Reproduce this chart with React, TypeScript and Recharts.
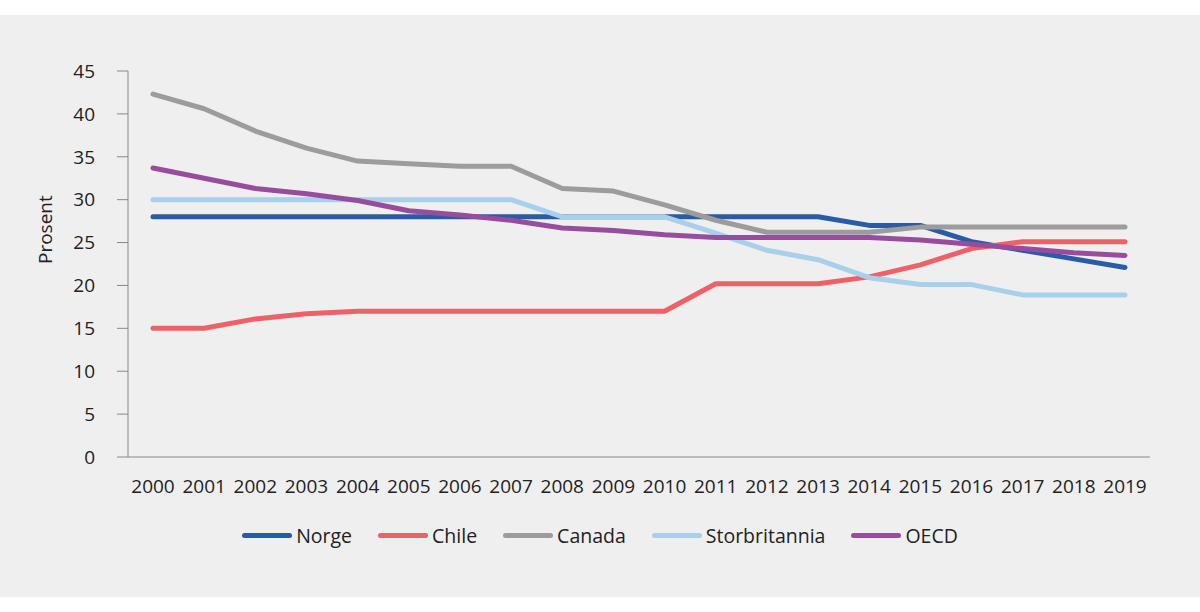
import { Legend, Line, LineChart, XAxis, YAxis } from 'recharts'

const years = [
  '2000', '2001', '2002', '2003', '2004', '2005', '2006', '2007', '2008', '2009',
  '2010', '2011', '2012', '2013', '2014', '2015', '2016', '2017', '2018', '2019',
]
const norge = [28, 28, 28, 28, 28, 28, 28, 28, 28, 28, 28, 28, 28, 28, 27, 27, 25.1, 24.1, 23.1, 22.1]
const chile = [15, 15, 16.1, 16.7, 17, 17, 17, 17, 17, 17, 17, 20.2, 20.2, 20.2, 21, 22.4, 24.3, 25.1, 25.1, 25.1]
const canada = [42.3, 40.6, 38, 36, 34.5, 34.2, 33.9, 33.9, 31.3, 31, 29.4, 27.6, 26.2, 26.2, 26.2, 26.8, 26.8, 26.8, 26.8, 26.8]
const storbritannia = [30, 30, 30, 30, 30, 30, 30, 30, 28, 28, 28, 26.1, 24.1, 23, 20.9, 20.1, 20.1, 18.9, 18.9, 18.9]
const oecd = [33.7, 32.5, 31.3, 30.7, 29.9, 28.7, 28.2, 27.6, 26.7, 26.4, 25.9, 25.6, 25.6, 25.6, 25.6, 25.3, 24.8, 24.3, 23.8, 23.5]
const yTicks = [0, 5, 10, 15, 20, 25, 30, 35, 40, 45]

const series = [
  { key: 'Norge', values: norge, color: '#2a5ba6' },
  { key: 'Chile', values: chile, color: '#ee6168' },
  { key: 'Canada', values: canada, color: '#9c9c9c' },
  { key: 'Storbritannia', values: storbritannia, color: '#a8d0ea' },
  { key: 'OECD', values: oecd, color: '#984c9e' },
]

const data = years.map((year, i) => {
  const row: Record<string, string | number> = { year }
  series.forEach((s) => {
    row[s.key] = s.values[i]
  })
  return row
})

const font = '"Open Sans", "Noto Sans", sans-serif'

function LegendRow() {
  return (
    <div style={{ display: 'flex', justifyContent: 'center', alignItems: 'center', height: 30, fontFamily: font, fontSize: 19.5, color: '#222' }}>
      {series.map((s, i) => (
        <div key={s.key} style={{ display: 'flex', alignItems: 'center', marginRight: i < series.length - 1 ? 26 : 0 }}>
          <div style={{ width: 50, height: 5, borderRadius: 3, background: s.color, marginRight: 4 }} />
          <span>{s.key}</span>
        </div>
      ))}
    </div>
  )
}

export default function App() {
  return (
    <div style={{ position: 'absolute', left: 0, top: 0, width: 1200, height: 612, background: '#fff' }}>
      <div style={{ position: 'absolute', left: 0, top: 15, width: 1200, height: 582, background: '#efefef' }}>
        <LineChart width={1200} height={582} data={data} margin={{ top: 56, right: 50, bottom: 50, left: 0 }}>
          <XAxis
            dataKey='year'
            padding={{ left: 25, right: 25 }}
            stroke='#888'
            tickLine={false}
            tickMargin={17}
            height={60}
            tick={{ fill: '#222', fontSize: 19, fontFamily: font }}
          />
          <YAxis
            width={128}
            domain={[0, 45]}
            ticks={yTicks}
            stroke='#888'
            tickSize={11}
            tickMargin={22}
            tick={{ fill: '#222', fontSize: 19, fontFamily: font }}
            label={{ value: 'Prosent', angle: -90, position: 'insideLeft', offset: 45, fill: '#222', fontSize: 19, fontFamily: font }}
          />
          <Legend verticalAlign='bottom' content={<LegendRow />} wrapperStyle={{ top: 505, left: 0, width: 1200, height: 30 }} />
          {series.map((s) => (
            <Line
              key={s.key}
              dataKey={s.key}
              stroke={s.color}
              strokeWidth={5}
              strokeLinecap='round'
              strokeLinejoin='round'
              dot={false}
              activeDot={false}
              isAnimationActive={false}
            />
          ))}
        </LineChart>
      </div>
    </div>
  )
}
